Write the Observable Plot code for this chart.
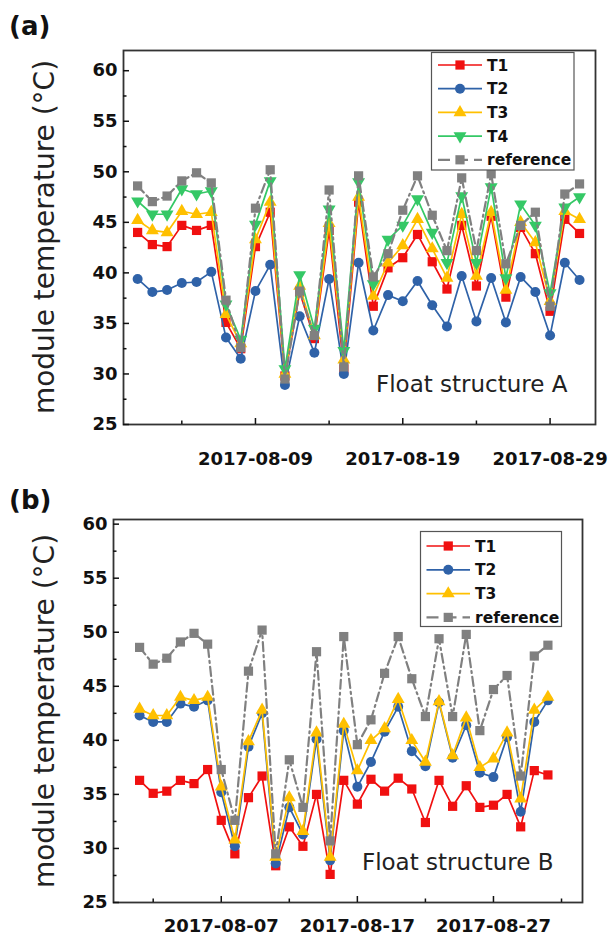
<!DOCTYPE html>
<html>
<head>
<meta charset="utf-8">
<script src="https://cdn.jsdelivr.net/npm/d3@7"></script>
<script src="https://cdn.jsdelivr.net/npm/@observablehq/plot@0.6"></script>
<style>
  body { margin: 0; background: #fff; font-family: "DejaVu Sans", sans-serif; }
  #wrap { position: relative; width: 616px; height: 938px; overflow: hidden; background: #fff; }
  .panel { position: absolute; left: 0; }
  .plabel { position: absolute; font: bold 26px "DejaVu Sans", sans-serif; color: #111; line-height: 1; }
  .ytitle { position: absolute; font: 28px "DejaVu Sans", sans-serif; color: #222; white-space: nowrap;
            transform: translate(-50%, -50%) rotate(-90deg); line-height: 1; }
  #overlay { position: absolute; left: 0; top: 0; pointer-events: none; }
</style>
</head>
<body>
<div id="wrap">
  <div class="plabel" style="left:9px;top:13px;">(a)</div>
  <div class="plabel" style="left:9px;top:487px;">(b)</div>
  <div class="ytitle" style="left:45px;top:237px;">module temperature (°C)</div>
  <div class="ytitle" style="left:45px;top:711px;">module temperature (°C)</div>
</div>
<script>
// ---------- data ----------
const dates = ["2017-08-01","2017-08-02","2017-08-03","2017-08-04","2017-08-05","2017-08-06","2017-08-07",
  "2017-08-08","2017-08-09","2017-08-10","2017-08-11","2017-08-12","2017-08-13","2017-08-14","2017-08-15",
  "2017-08-16","2017-08-17","2017-08-18","2017-08-19","2017-08-20","2017-08-21","2017-08-22","2017-08-23",
  "2017-08-24","2017-08-25","2017-08-26","2017-08-27","2017-08-28","2017-08-29","2017-08-30","2017-08-31"];

// Float structure A
const t1A = [44.0, 42.8, 42.6, 44.7, 44.2, 44.7, 35.1, 32.5, 42.6, 46.0, 29.8, 38.1, 33.5, 44.2, 30.5, 47.0,
  36.7, 40.5, 41.5, 43.8, 41.1, 38.4, 44.7, 38.7, 45.6, 37.6, 44.5, 41.9, 36.2, 45.3, 43.9];
const t2A = [39.4, 38.1, 38.3, 39.0, 39.1, 40.1, 33.6, 31.5, 38.2, 40.8, 28.9, 35.7, 32.1, 39.4, 30.0, 41.0,
  34.3, 37.8, 37.2, 39.2, 36.8, 34.7, 39.7, 35.2, 39.5, 35.1, 39.6, 38.1, 33.8, 41.0, 39.3];
const t3A = [45.2, 44.2, 44.0, 46.1, 45.8, 46.0, 35.9, 33.0, 43.3, 47.0, 30.0, 38.7, 33.8, 44.9, 31.4, 47.5,
  37.7, 41.0, 42.7, 45.3, 42.4, 39.5, 45.8, 39.7, 46.0, 38.3, 45.0, 43.0, 37.2, 46.1, 45.3];
const t4A = [47.1, 45.8, 45.8, 48.3, 47.8, 48.1, 36.9, 33.4, 44.8, 49.1, 30.5, 39.8, 34.5, 46.3, 32.3, 49.0,
  38.9, 43.3, 44.7, 47.3, 44.0, 41.0, 47.6, 41.0, 48.5, 39.5, 46.8, 44.7, 38.0, 46.5, 47.5];

// Float structure B
const t1B = [36.3, 35.1, 35.3, 36.3, 36.0, 37.3, 32.6, 29.5, 34.7, 36.7, 28.4, 32.0, 30.2, 35.0, 27.6, 36.3,
  34.1, 36.4, 35.3, 36.5, 35.5, 32.4, 36.3, 33.9, 35.8, 33.8, 34.0, 35.0, 32.0, 37.2, 36.8];
const t2B = [42.3, 41.7, 41.7, 43.4, 43.1, 43.7, 35.2, 30.2, 39.4, 42.5, 28.6, 33.8, 31.3, 40.1, 28.9, 40.9,
  35.7, 38.0, 40.8, 43.1, 39.0, 37.6, 43.5, 38.4, 41.4, 37.0, 36.6, 40.3, 33.4, 41.7, 43.7];
const t3B = [42.9, 42.3, 42.3, 44.0, 43.7, 44.0, 35.7, 30.8, 39.9, 42.8, 29.2, 34.7, 31.6, 40.7, 29.2, 41.5,
  37.2, 40.0, 41.1, 43.8, 40.0, 38.0, 43.6, 38.6, 42.1, 37.5, 38.3, 40.7, 34.6, 42.8, 44.0];

// reference module (same in both panels)
const reference = [48.6, 47.05, 47.6, 49.1, 49.9, 48.9, 37.3, 32.6, 46.4, 50.2, 29.5, 38.2, 33.8, 48.2, 30.7,
  49.6, 39.6, 41.9, 46.2, 49.6, 45.7, 42.2, 49.4, 42.2, 49.8, 40.9, 44.7, 46.0, 36.7, 47.8, 48.8];

// ticks
const yMajor = [25, 30, 35, 40, 45, 50, 55, 60];
const yMinor = [27.5, 32.5, 37.5, 42.5, 47.5, 52.5, 57.5];
const xMajorA = ["2017-08-09", "2017-08-19", "2017-08-29"];
const xMinorA = ["2017-08-04", "2017-08-14", "2017-08-24"];
const xMajorB = ["2017-08-07", "2017-08-17", "2017-08-27"];
const xMinorB = ["2017-08-02", "2017-08-12", "2017-08-22", "2017-09-01"];

// ---------- styling ----------
const sqrt3 = Math.sqrt(3);
const triangleDown = {
  draw(context, size) {
    const y = -Math.sqrt(size / (sqrt3 * 3));
    context.moveTo(0, -y * 2);
    context.lineTo(-sqrt3 * y, y);
    context.lineTo(sqrt3 * y, y);
    context.closePath();
  }
};
const S = {
  T1: {color: "#f01010", symbol: "square", r: 5.2, width: 1.7},
  T2: {color: "#2f62a8", symbol: "circle", r: 5, width: 1.7},
  T3: {color: "#ffc000", symbol: "triangle", r: 4.8, width: 1.7},
  T4: {color: "#35c866", symbol: triangleDown, r: 4.8, width: 1.7},
  reference: {color: "#808080", symbol: "square", r: 5.2, width: 2.2, dash: "9,4,2,4"}
};

const toDate = (s) => new Date(s + "T00:00:00Z");

function makePanel(cfg) {
  const marks = [Plot.frame({stroke: "#333", strokeWidth: 1.8})];
  for (const [name, values] of cfg.series) {
    const st = S[name];
    const data = dates.map((d, i) => ({date: toDate(d), v: values[i]}));
    marks.push(Plot.line(data, {x: "date", y: "v", stroke: st.color, strokeWidth: st.width, strokeDasharray: st.dash}));
    marks.push(Plot.dot(data, {x: "date", y: "v", fill: st.color, symbol: st.symbol, r: st.r}));
  }
  marks.push(
    Plot.axisY({ticks: yMajor, tickSize: -6, text: null, strokeWidth: 1.5, label: null}),
    Plot.axisY({ticks: yMinor, tickSize: -3.5, text: null, strokeWidth: 1.5, label: null}),
    Plot.axisY({ticks: yMajor, tickSize: 0, tickPadding: 6, fontSize: 18, fontWeight: "bold", label: null}),
    Plot.axisX({ticks: cfg.xMajor.map(toDate), tickSize: -6, text: null, strokeWidth: 1.5, label: null}),
    Plot.axisX({ticks: cfg.xMinor.map(toDate), tickSize: -3.5, text: null, strokeWidth: 1.5, label: null}),
    Plot.axisX({ticks: cfg.xMajor.map(toDate), tickSize: 0, tickPadding: cfg.xPad, tickFormat: d3.utcFormat("%Y-%m-%d"),
      fontSize: 18, fontWeight: "bold", label: null}),
    Plot.text([cfg.note], {frameAnchor: "bottom-right", text: (d) => d, textAnchor: "end", lineAnchor: "bottom",
      dx: cfg.noteDx, dy: cfg.noteDy, fontSize: 23, fill: "#222"})
  );
  return Plot.plot({
    width: 616,
    height: cfg.height,
    marginLeft: cfg.ml, marginRight: cfg.mr, marginTop: cfg.mt, marginBottom: cfg.mb,
    x: {type: "utc", domain: cfg.xDomain, axis: null},
    y: {domain: cfg.yDomain, axis: null},
    style: {fontFamily: "DejaVu Sans, sans-serif", color: "#111", background: "transparent", overflow: "visible"},
    marks
  });
}

const wrap = document.getElementById("wrap");

const plotA = makePanel({
  series: [["T1", t1A], ["T2", t2A], ["T3", t3A], ["T4", t4A], ["reference", reference]],
  height: 470, ml: 123, mr: 21, mt: 50, mb: 46,
  xDomain: [new Date("2017-07-31T01:00:00Z"), new Date("2017-09-01T02:00:00Z")],
  yDomain: [25, 62],
  xMajor: xMajorA, xMinor: xMinorA, xPad: 28,
  note: "Float structure A", noteDx: -28, noteDy: -33
});
plotA.classList.add("panel");
plotA.style.top = "0px";
wrap.appendChild(plotA);

const plotB = makePanel({
  series: [["T1", t1B], ["T2", t2B], ["T3", t3B], ["reference", reference]],
  height: 468, ml: 113, mr: 34, mt: 49, mb: 36,
  xDomain: [new Date("2017-07-30T02:00:00Z"), new Date("2017-09-02T13:00:00Z")],
  yDomain: [25, 60.43],
  xMajor: xMajorB, xMinor: xMinorB, xPad: 17,
  note: "Float structure B", noteDx: -29, noteDy: -33
});
plotB.classList.add("panel");
plotB.style.top = "470px";
wrap.appendChild(plotB);

// ---------- legends ----------
const overlay = d3.select(wrap).append("svg").attr("id", "overlay").attr("width", 616).attr("height", 938);
function symbolPath(st) {
  const type = st.symbol === "square" ? d3.symbolSquare : st.symbol === "circle" ? d3.symbolCircle
    : st.symbol === "triangle" ? d3.symbolTriangle : st.symbol;
  return d3.symbol(type, Math.PI * st.r * st.r)();
}
function drawLegend(box, names) {
  const g = overlay.append("g");
  g.append("rect").attr("x", box.x).attr("y", box.y).attr("width", box.w).attr("height", box.h)
    .attr("fill", "#fff").attr("stroke", "#555").attr("stroke-width", 1.2);
  names.forEach((name, i) => {
    const st = S[name];
    const cy = box.y + box.first + i * box.step;
    g.append("line").attr("x1", box.lx1).attr("x2", box.lx2).attr("y1", cy).attr("y2", cy)
      .attr("stroke", st.color).attr("stroke-width", st.width)
      .attr("stroke-dasharray", st.dash ? "12,6" : null);
    g.append("path").attr("d", symbolPath(st)).attr("fill", st.color)
      .attr("transform", `translate(${(box.lx1 + box.lx2) / 2},${cy})`);
    g.append("text").attr("x", box.tx).attr("y", cy).attr("dy", "0.36em")
      .attr("font-family", "DejaVu Sans, sans-serif").attr("font-weight", "bold").attr("font-size", 15.5)
      .attr("fill", "#111").text(name);
  });
}
drawLegend({x: 431.5, y: 52.5, w: 142.5, h: 117.5, first: 12.5, step: 23.7, lx1: 438, lx2: 482, tx: 487},
  ["T1", "T2", "T3", "T4", "reference"]);
drawLegend({x: 420.5, y: 531.5, w: 141, h: 95, first: 14.5, step: 23.8, lx1: 426.5, lx2: 470, tx: 475},
  ["T1", "T2", "T3", "reference"]);
</script>
</body>
</html>
